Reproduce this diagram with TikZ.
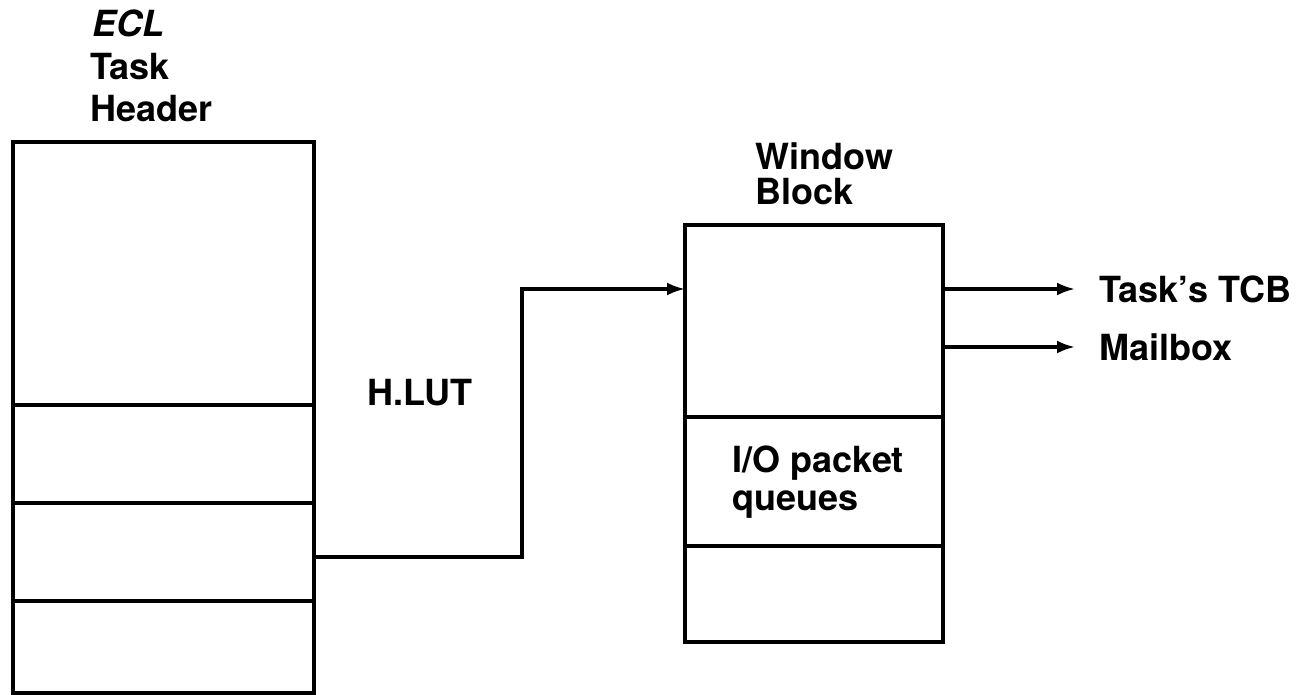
\documentclass[tikz,border=0pt]{standalone}
\usepackage{fontspec}
\setmainfont{TeX Gyre Heros}
\usetikzlibrary{positioning,arrows.meta}
\tikzstyle{cell} = [draw, rectangle, line width=1.8pt, inner sep=0pt, outer sep=0pt]
\tikzstyle{tag} = [inner sep=0pt, anchor=base west, align=left, font=\bfseries\fontsize{18}{21}\selectfont]
\tikzstyle{dest} = [anchor=west, inner xsep=12pt, inner ysep=0pt, font=\bfseries\fontsize{18}{21}\selectfont]
\tikzstyle{wire} = [line width=1.6pt]
\begin{document}
\begin{tikzpicture}[x=0.5pt, y=-0.5pt, >={Latex[length=9pt,width=6.5pt]}]
\useasboundingbox (0,0) rectangle (1307,695);

% task header
\node [cell, minimum width=150.5pt, minimum height=131.5pt, anchor=north] (hdr1) at (163.5,142) {};
\node [cell, minimum width=150.5pt, minimum height=49pt, below=0pt of hdr1] (hdr2) {};
\node [cell, minimum width=150.5pt, minimum height=49pt, below=0pt of hdr2] (hdr3) {};
\node [cell, minimum width=150.5pt, minimum height=46pt, below=0pt of hdr3] (hdr4) {};

% window block
\node [cell, minimum width=129pt, minimum height=96pt, anchor=north] (win1) at (814,225) {};
\node [cell, minimum width=129pt, minimum height=64.5pt, below=0pt of win1] (win2) {};
\node [cell, minimum width=129pt, minimum height=48pt, below=0pt of win2] (win3) {};

% labels (base = last line)
\node [tag, font=\bfseries\itshape\fontsize{18}{21}\selectfont] (ecl) at (92,37) {ECL};
\node [tag] (hdrname) at (90,122) {Task\\Header};
\node [tag, font=\bfseries\fontsize{18}{17.5}\selectfont] (winname) at (755,205) {Window\\Block};
\node [tag] (lut) at (367,405) {H.LUT};
\node [tag, font=\bfseries\fontsize{18}{19}\selectfont] (ioq) at (732,510) {I/O packet\\queues};
\node [dest] (tcb) at (1075,289) {Task's TCB};
\node [dest] (mbx) at (1075,347) {Mailbox};
\coordinate (jog) at (522,420);

\draw [wire, ->] ([yshift=-2.5pt]hdr3.east) -| (jog) |- ([yshift=16pt]win1.west);
\draw [wire, ->] ([yshift=16pt]win1.east) -- (tcb);
\draw [wire, ->] ([yshift=-13pt]win1.east) -- (mbx);

\end{tikzpicture}
\end{document}
